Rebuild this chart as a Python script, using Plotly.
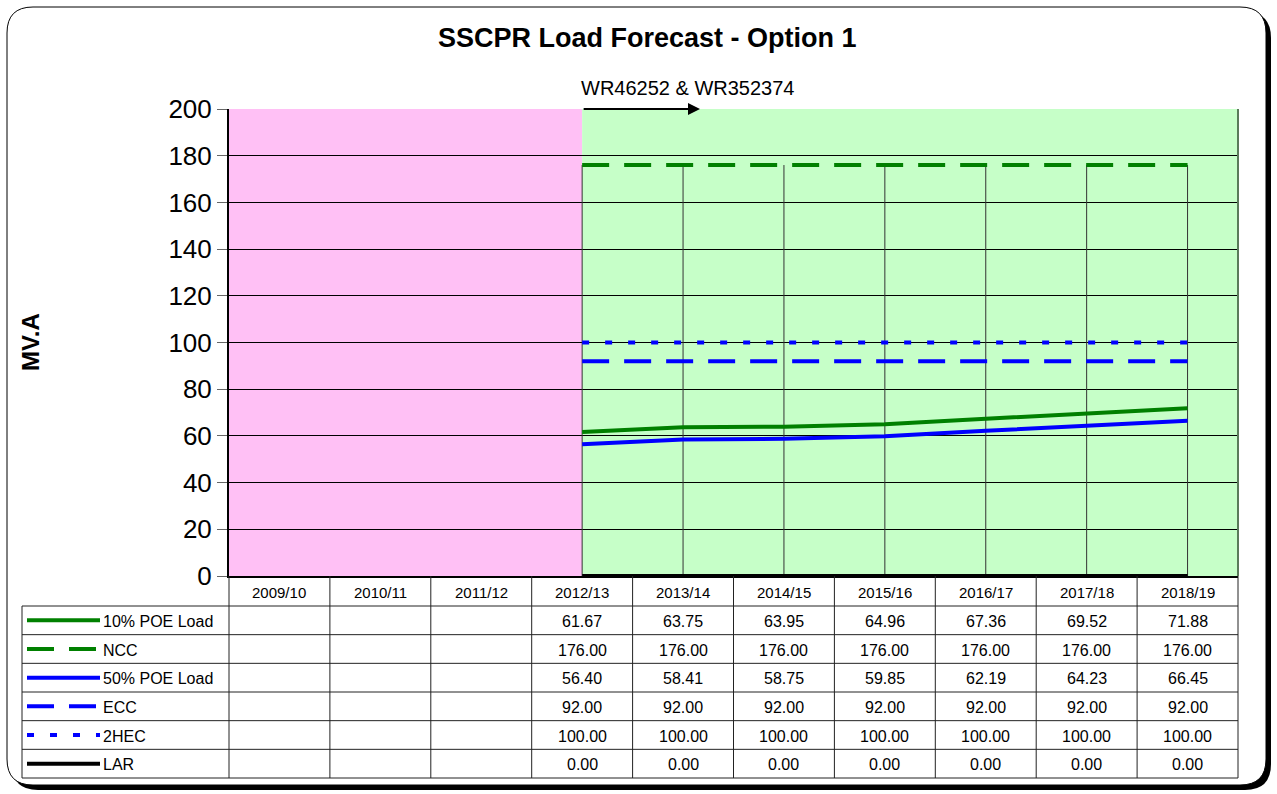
import plotly.graph_objects as go

W, H = 1277, 794

categories = ["2009/10", "2010/11", "2011/12", "2012/13", "2013/14",
              "2014/15", "2015/16", "2016/17", "2017/18", "2018/19"]
poe10 = [None, None, None, 61.67, 63.75, 63.95, 64.96, 67.36, 69.52, 71.88]
ncc = [None, None, None, 176.00, 176.00, 176.00, 176.00, 176.00, 176.00, 176.00]
poe50 = [None, None, None, 56.40, 58.41, 58.75, 59.85, 62.19, 64.23, 66.45]
ecc = [None, None, None, 92.00, 92.00, 92.00, 92.00, 92.00, 92.00, 92.00]
hec2 = [None, None, None, 100.00, 100.00, 100.00, 100.00, 100.00, 100.00, 100.00]
lar = [None, None, None, 0.00, 0.00, 0.00, 0.00, 0.00, 0.00, 0.00]

series_names = ["10% POE Load", "NCC", "50% POE Load", "ECC", "2HEC", "LAR"]
series_values = [poe10, ncc, poe50, ecc, hec2, lar]
series_colors = ["#008000", "#008000", "#0000FF", "#0000FF", "#0000FF", "#000000"]
series_dash = ["solid", "27px,15px", "solid", "27px,15px", "7px,16px", "solid"]

y_ticks = [0, 20, 40, 60, 80, 100, 120, 140, 160, 180, 200]

FONT = "Arial, Liberation Sans, sans-serif"


def px(x):
    return x / W


def py(y):
    return 1 - y / H


PL, PR, PT, PB = 229, 1238, 109, 576
ncat = len(categories)
colw = (PR - PL) / ncat
idx = list(range(ncat))
start = next(i for i, v in enumerate(poe10) if v is not None)

fig = go.Figure()

# drop lines from the highest value to the axis
dx, dy = [], []
for i in idx:
    vals = [s[i] for s in series_values if s[i] is not None]
    if vals:
        dx += [i, i, None]
        dy += [0, max(vals), None]
fig.add_trace(go.Scatter(x=dx, y=dy, mode="lines", line=dict(color="#333333", width=1),
                         showlegend=False, hoverinfo="skip"))

for name, vals, col, dash in zip(series_names, series_values, series_colors, series_dash):
    fig.add_trace(go.Scatter(x=idx, y=vals, mode="lines", name=name,
                             line=dict(color=col, width=4, dash=dash),
                             showlegend=False, connectgaps=False))

shapes = []


def rrect(x0, y0, x1, y1, r):
    return (f"M {px(x0 + r)},{py(y0)} L {px(x1 - r)},{py(y0)} "
            f"Q {px(x1)},{py(y0)} {px(x1)},{py(y0 + r)} "
            f"L {px(x1)},{py(y1 - r)} Q {px(x1)},{py(y1)} {px(x1 - r)},{py(y1)} "
            f"L {px(x0 + r)},{py(y1)} Q {px(x0)},{py(y1)} {px(x0)},{py(y1 - r)} "
            f"L {px(x0)},{py(y0 + r)} Q {px(x0)},{py(y0)} {px(x0 + r)},{py(y0)} Z")


# outer frame with shadow
shapes.append(dict(type="path", xref="paper", yref="paper", path=rrect(12, 12, 1271, 790, 26),
                   fillcolor="black", line=dict(width=0), layer="below"))
shapes.append(dict(type="path", xref="paper", yref="paper", path=rrect(7, 7, 1266, 785, 26),
                   fillcolor="white", line=dict(color="black", width=1), layer="below"))
# background zones
shapes.append(dict(type="rect", xref="x", yref="y", x0=-0.5, x1=start, y0=0, y1=200,
                   fillcolor="#FFC0F5", line=dict(width=0), layer="below"))
shapes.append(dict(type="rect", xref="x", yref="y", x0=start, x1=ncat - 0.5, y0=0, y1=200,
                   fillcolor="#C6FFC8", line=dict(width=0), layer="below"))
# right plot border
shapes.append(dict(type="line", xref="paper", yref="paper", x0=px(PR), x1=px(PR),
                   y0=py(PT), y1=py(PB), line=dict(color="#5a7a5a", width=2)))

# data table
HDR_B = 606
ROWH = (778 - HDR_B) / 6
TL = 22
tcol = "#222222"
for k in range(7):
    yy = HDR_B + k * ROWH
    shapes.append(dict(type="line", xref="paper", yref="paper", x0=px(TL), x1=px(PR),
                       y0=py(yy), y1=py(yy), line=dict(color=tcol, width=1)))
for c in range(ncat + 1):
    xx = PL + c * colw
    shapes.append(dict(type="line", xref="paper", yref="paper", x0=px(xx), x1=px(xx),
                       y0=py(PB), y1=py(778), line=dict(color=tcol, width=1)))
shapes.append(dict(type="line", xref="paper", yref="paper", x0=px(TL), x1=px(TL),
                   y0=py(HDR_B), y1=py(778), line=dict(color=tcol, width=1)))

annotations = []


def txt(x, y, text, size, xanchor="center", **kw):
    annotations.append(dict(xref="paper", yref="paper", x=px(x), y=py(y), text=text,
                            showarrow=False, xanchor=xanchor, yanchor="middle",
                            font=dict(family=FONT, size=size, color="black"), **kw))


for c, cat in enumerate(categories):
    txt(PL + (c + 0.5) * colw, (PB + HDR_B) / 2 + 1, cat, 15)
for r, (name, vals, col, dash) in enumerate(zip(series_names, series_values, series_colors, series_dash)):
    yc = HDR_B + (r + 0.5) * ROWH
    shapes.append(dict(type="line", xref="paper", yref="paper", x0=px(27), x1=px(100),
                       y0=py(yc), y1=py(yc), line=dict(color=col, width=4, dash=dash)))
    txt(101, yc + 1, name, 16, xanchor="left")
    for c, v in enumerate(vals):
        if v is None:
            continue
        txt(PL + (c + 0.5) * colw, yc + 1, f"{v:.2f}", 16)

# title, axis label, note
txt(647, 38, "<b>SSCPR Load Forecast - Option 1</b>", 27)
txt(31, 342, "<b>MV.A</b>", 24, textangle=-90)
txt(579, 88, "WR46252 &amp; WR352374", 20, xanchor="left")
annotations.append(dict(xref="x", yref="y", axref="x", ayref="y",
                        x=start + (700 - PL - (start + 0.5) * colw) / colw, y=200,
                        ax=start, ay=200, text="", showarrow=True,
                        arrowhead=2, arrowsize=1.2, arrowwidth=2, arrowcolor="black"))

fig.update_layout(
    width=W, height=H,
    margin=dict(l=0, r=0, t=0, b=0, autoexpand=False),
    paper_bgcolor="white", plot_bgcolor="rgba(0,0,0,0)",
    showlegend=False,
    shapes=shapes, annotations=annotations,
    xaxis=dict(domain=[px(PL), px(PR)], range=[-0.5, ncat - 0.5], showticklabels=False,
               showgrid=False, zeroline=False, showline=True, linecolor="black", linewidth=2,
               ticks=""),
    yaxis=dict(domain=[py(PB), py(PT)], range=[0, 200], tickvals=y_ticks,
               showgrid=True, gridcolor="black", gridwidth=1, zeroline=False,
               showline=True, linecolor="black", linewidth=2,
               ticks="outside", ticklen=10, tickcolor="#666666", tickwidth=1,
               tickfont=dict(family=FONT, size=26, color="black")),
)

fig.write_html("out.html", config={"displayModeBar": False},
               post_script="document.body.style.margin='0';")
